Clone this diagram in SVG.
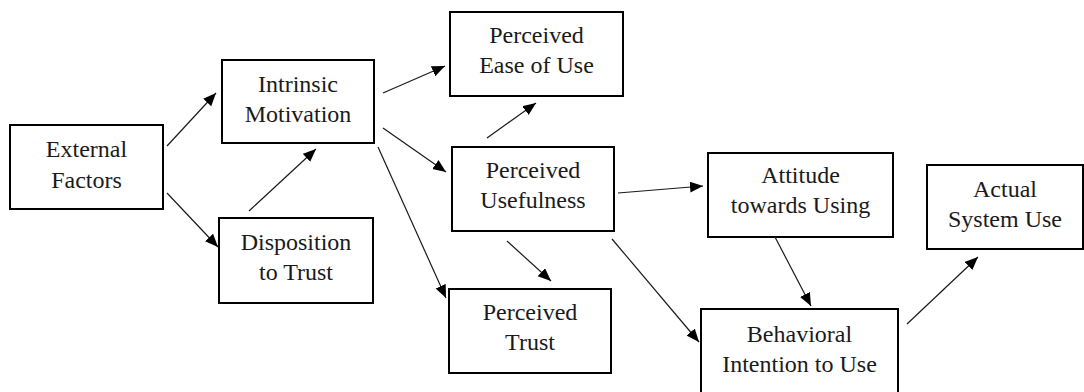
<svg xmlns="http://www.w3.org/2000/svg" width="1084" height="392" viewBox="0 0 1084 392">
<style>
.box{fill:#fff;stroke:#000;stroke-width:2}
.c line{stroke:#1a1a1a;stroke-width:1.2;marker-end:url(#ah)}
</style>
<defs>
<marker id="ah" markerUnits="userSpaceOnUse" markerWidth="14" markerHeight="12" refX="13" refY="5.5" orient="auto">
<path d="M0,0 L13,5.5 L0,11 z" fill="#000"/>
</marker>
</defs>
<rect width="1084" height="392" fill="#fff"/>
<g id="external"><rect class="box" x="10" y="125" width="153" height="84"/><text style="font-family:'Liberation Serif','Times New Roman',serif;font-size:24px;fill:#1a1a1a;text-anchor:middle" x="86.5" y="157">External</text><text style="font-family:'Liberation Serif','Times New Roman',serif;font-size:24px;fill:#1a1a1a;text-anchor:middle" x="86.5" y="188">Factors</text></g>
<g id="intrinsic"><rect class="box" x="222" y="60" width="152" height="83"/><text style="font-family:'Liberation Serif','Times New Roman',serif;font-size:24px;fill:#1a1a1a;text-anchor:middle" x="298" y="92">Intrinsic</text><text style="font-family:'Liberation Serif','Times New Roman',serif;font-size:24px;fill:#1a1a1a;text-anchor:middle" x="298" y="122">Motivation</text></g>
<g id="disposition"><rect class="box" x="219" y="218" width="154" height="85"/><text style="font-family:'Liberation Serif','Times New Roman',serif;font-size:24px;fill:#1a1a1a;text-anchor:middle" x="296" y="250">Disposition</text><text style="font-family:'Liberation Serif','Times New Roman',serif;font-size:24px;fill:#1a1a1a;text-anchor:middle" x="296" y="280">to Trust</text></g>
<g id="peou"><rect class="box" x="450" y="12" width="173" height="84"/><text style="font-family:'Liberation Serif','Times New Roman',serif;font-size:24px;fill:#1a1a1a;text-anchor:middle" x="536.5" y="43">Perceived</text><text style="font-family:'Liberation Serif','Times New Roman',serif;font-size:24px;fill:#1a1a1a;text-anchor:middle" x="536.5" y="73">Ease of Use</text></g>
<g id="pu"><rect class="box" x="452" y="147" width="162" height="84"/><text style="font-family:'Liberation Serif','Times New Roman',serif;font-size:24px;fill:#1a1a1a;text-anchor:middle" x="533" y="178">Perceived</text><text style="font-family:'Liberation Serif','Times New Roman',serif;font-size:24px;fill:#1a1a1a;text-anchor:middle" x="533" y="208">Usefulness</text></g>
<g id="pt"><rect class="box" x="449" y="289" width="162" height="84"/><text style="font-family:'Liberation Serif','Times New Roman',serif;font-size:24px;fill:#1a1a1a;text-anchor:middle" x="530" y="320">Perceived</text><text style="font-family:'Liberation Serif','Times New Roman',serif;font-size:24px;fill:#1a1a1a;text-anchor:middle" x="530" y="350">Trust</text></g>
<g id="attitude"><rect class="box" x="708" y="153" width="185" height="84"/><text style="font-family:'Liberation Serif','Times New Roman',serif;font-size:24px;fill:#1a1a1a;text-anchor:middle" x="800.5" y="183">Attitude</text><text style="font-family:'Liberation Serif','Times New Roman',serif;font-size:24px;fill:#1a1a1a;text-anchor:middle" x="800.5" y="213">towards Using</text></g>
<g id="actual"><rect class="box" x="927" y="165" width="156" height="84"/><text style="font-family:'Liberation Serif','Times New Roman',serif;font-size:24px;fill:#1a1a1a;text-anchor:middle" x="1005" y="197">Actual</text><text style="font-family:'Liberation Serif','Times New Roman',serif;font-size:24px;fill:#1a1a1a;text-anchor:middle" x="1005" y="227">System Use</text></g>
<g id="bi"><rect class="box" x="701" y="309" width="197" height="90"/><text style="font-family:'Liberation Serif','Times New Roman',serif;font-size:24px;fill:#1a1a1a;text-anchor:middle" x="799.5" y="342">Behavioral</text><text style="font-family:'Liberation Serif','Times New Roman',serif;font-size:24px;fill:#1a1a1a;text-anchor:middle" x="799.5" y="372">Intention to Use</text></g>
<g id="connectors" class="c">
<line x1="167" y1="146" x2="216" y2="93"/>
<line x1="167" y1="193" x2="218" y2="247"/>
<line x1="249" y1="211" x2="316" y2="149"/>
<line x1="383" y1="93" x2="445" y2="66"/>
<line x1="383" y1="128" x2="446" y2="172"/>
<line x1="378" y1="147" x2="446" y2="298"/>
<line x1="487" y1="138" x2="536" y2="103"/>
<line x1="507" y1="241" x2="551" y2="281"/>
<line x1="618" y1="193" x2="703" y2="186"/>
<line x1="612" y1="239" x2="699" y2="342"/>
<line x1="775" y1="237" x2="811" y2="306"/>
<line x1="907" y1="324" x2="978" y2="257"/>
</g>
</svg>
